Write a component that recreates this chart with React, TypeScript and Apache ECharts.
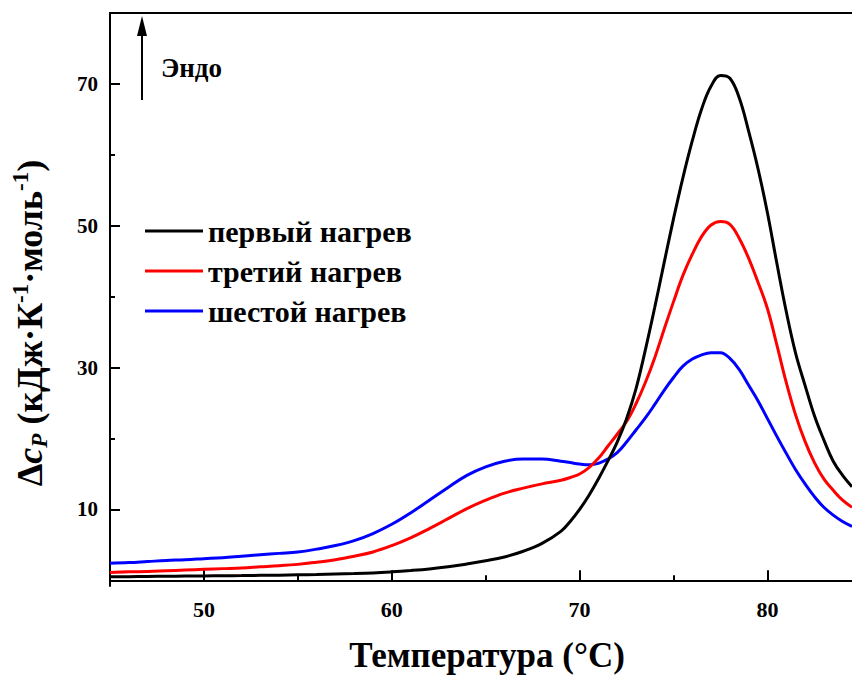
import React, { useEffect, useRef } from "react";
import * as echarts from "echarts";

const temperature = [45, 46, 47, 48, 49, 50, 51, 52, 53, 54, 55, 56, 57, 58, 59, 60, 61, 62, 63, 64, 65, 66, 67, 68, 69, 69.5, 70, 70.5, 71, 71.5, 72, 72.5, 73, 73.5, 74, 74.5, 75, 75.5, 76, 76.5, 77, 77.5, 78, 78.5, 79, 79.5, 80, 80.5, 81, 81.5, 82, 82.5, 83, 83.5, 84, 84.5];
const firstHeating = [0.5, 0.52, 0.55, 0.57, 0.6, 0.62, 0.65, 0.67, 0.7, 0.73, 0.77, 0.82, 0.88, 0.95, 1.05, 1.2, 1.38, 1.6, 1.9, 2.3, 2.75, 3.3, 4.1, 5.2, 6.9, 8.3, 10.0, 12.0, 14.3, 16.8, 19.5, 22.8, 27.0, 32.5, 38.5, 44.8, 51.0, 56.8, 62.0, 66.5, 69.7, 71.2, 70.8, 68.0, 63.3, 58.0, 51.8, 44.7, 37.9, 32.0, 27.5, 23.2, 19.8, 16.8, 14.8, 13.2];
const thirdHeating = [1.1, 1.2, 1.25, 1.35, 1.45, 1.55, 1.65, 1.75, 1.9, 2.05, 2.25, 2.55, 2.9, 3.4, 4.0, 4.9, 6.0, 7.3, 8.7, 10.1, 11.3, 12.3, 13.0, 13.6, 14.1, 14.5, 15.0, 15.9, 17.2, 18.9, 20.6, 22.4, 24.9, 27.9, 31.4, 35.4, 39.3, 43.0, 46.0, 48.5, 50.1, 50.6, 50.2, 48.2, 45.4, 42.0, 38.3, 33.2, 27.9, 23.3, 19.6, 16.6, 14.3, 12.7, 11.3, 10.3];
const sixthHeating = [2.4, 2.5, 2.65, 2.8, 2.9, 3.05, 3.2, 3.4, 3.6, 3.8, 4.0, 4.4, 4.9, 5.6, 6.6, 7.9, 9.5, 11.3, 13.1, 14.8, 16.0, 16.8, 17.1, 17.1, 16.8, 16.6, 16.4, 16.3, 16.5, 17.1, 18.0, 19.5, 21.2, 22.9, 24.8, 26.8, 28.6, 30.2, 31.2, 31.8, 32.1, 32.1, 31.3, 29.7, 27.5, 25.3, 22.8, 20.3, 17.9, 15.6, 13.6, 11.8, 10.3, 9.2, 8.3, 7.6];

const seriesNames = ["первый нагрев", "третий нагрев", "шестой нагрев"];
const seriesColors = ["#000000", "#ff0000", "#0000ff"];
const xMajorTicks = [50, 60, 70, 80];
const xMinorTicks = [55, 65, 75];
const yMajorTicks = [10, 30, 50, 70];
const yMinorTicks = [20, 40, 60];
const xRange = [45, 84.5];
const yRange = [-0.8, 80];

const FONT = '"Liberation Serif", "Times New Roman", serif';

function pairs(xs: number[], ys: number[]) {
  return xs.map((x, i) => [x, ys[i]]);
}

export default function App() {
  const ref = useRef<HTMLDivElement>(null);
  useEffect(() => {
    if (!ref.current) return;
    const chart = echarts.init(ref.current, undefined, { renderer: "svg" });
    const axisLine = { show: true, lineStyle: { color: "#000", width: 2 } };
    const option: any = {
      animation: false,
      backgroundColor: "#ffffff",
      grid: { left: 110, right: 0, top: 13, bottom: 89 },
      xAxis: [
        {
          type: "value", min: xRange[0], max: xRange[1], position: "bottom",
          axisLine,
          splitLine: { show: false },
          axisTick: { show: true, inside: true, length: 10, lineStyle: { color: "#000", width: 2 }, customValues: xMajorTicks },
          axisLabel: { customValues: xMajorTicks, color: "#000", fontFamily: FONT, fontWeight: "bold", fontSize: 22, margin: 12 },
        },
        {
          type: "value", min: xRange[0], max: xRange[1], position: "bottom",
          axisLine: { show: false },
          splitLine: { show: false },
          axisTick: { show: true, inside: true, length: 5, lineStyle: { color: "#000", width: 2 }, customValues: xMinorTicks },
          axisLabel: { show: false },
        },
        {
          type: "value", min: xRange[0], max: xRange[1], position: "top",
          axisLine,
          splitLine: { show: false },
          axisTick: { show: false },
          axisLabel: { show: false },
        },
      ],
      yAxis: [
        {
          type: "value", min: yRange[0], max: yRange[1], position: "left",
          axisLine,
          splitLine: { show: false },
          axisTick: { show: true, inside: true, length: 10, lineStyle: { color: "#000", width: 2 }, customValues: yMajorTicks },
          axisLabel: { customValues: yMajorTicks, color: "#000", fontFamily: FONT, fontWeight: "bold", fontSize: 21, margin: 12 },
        },
        {
          type: "value", min: yRange[0], max: yRange[1], position: "left",
          axisLine: { show: false },
          splitLine: { show: false },
          axisTick: { show: true, inside: true, length: 5, lineStyle: { color: "#000", width: 2 }, customValues: yMinorTicks },
          axisLabel: { show: false },
        },
      ],
      legend: {
        orient: "vertical",
        left: 145,
        top: 216,
        padding: 0,
        icon: "rect",
        itemWidth: 58,
        itemHeight: 3,
        itemGap: 10,
        data: seriesNames,
        textStyle: { color: "#000", fontFamily: FONT, fontWeight: "bold", fontSize: 30 },
      },
      series: [firstHeating, thirdHeating, sixthHeating].map((ys, i) => ({
        name: seriesNames[i],
        type: "line",
        xAxisIndex: 0,
        yAxisIndex: 0,
        smooth: 0.4,
        showSymbol: false,
        symbol: "none",
        data: pairs(temperature, ys),
        lineStyle: { color: seriesColors[i], width: 3 },
        itemStyle: { color: seriesColors[i] },
        z: 3 - i,
      })),
      graphic: [
        { type: "line", shape: { x1: 142, y1: 100, x2: 142, y2: 32 }, style: { stroke: "#000", lineWidth: 2 } },
        { type: "polygon", shape: { points: [[137, 36], [147, 36], [142, 16]] }, style: { fill: "#000" } },
        {
          type: "text", left: 161, top: 54,
          style: { text: "Эндо", fill: "#000", font: `bold 27px ${FONT}` },
        },
        {
          type: "text", x: 487, y: 655,
          style: { text: "Температура (°C)", fill: "#000", font: `bold 35px ${FONT}`, textAlign: "center", textVerticalAlign: "middle" },
        },
        {
          type: "text", x: 30, y: 323, rotation: Math.PI / 2,
          style: {
            text: "{a|Δ}{i|c}{sub|P}{a| (кДж·К}{sup|-1}{a|·моль}{sup|-1}{a|)}",
            fill: "#000",
            textAlign: "center",
            textVerticalAlign: "middle",
            rich: {
              a: { fontFamily: FONT, fontWeight: "bold", fontSize: 36, lineHeight: 42, fill: "#000" },
              i: { fontFamily: FONT, fontWeight: "bold", fontStyle: "italic", fontSize: 36, lineHeight: 42, fill: "#000" },
              sub: { fontFamily: FONT, fontWeight: "bold", fontStyle: "italic", fontSize: 23, verticalAlign: "bottom", fill: "#000" },
              sup: { fontFamily: FONT, fontWeight: "bold", fontSize: 23, verticalAlign: "top", fill: "#000" },
            },
          },
        },
      ],
    };
    chart.setOption(option);
    return () => chart.dispose();
  }, []);
  return (
    <div style={{ position: "absolute", left: 0, top: 0, width: 852, height: 675, overflow: "hidden", background: "#fff" }}>
      <div ref={ref} style={{ width: 852, height: 675 }} />
    </div>
  );
}
